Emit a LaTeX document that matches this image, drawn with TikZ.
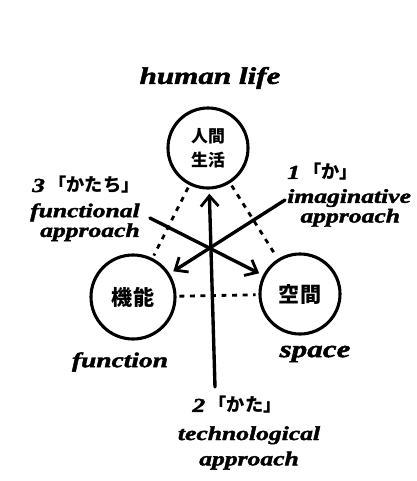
\documentclass[tikz,border=0pt]{standalone}
\usepackage{fontspec}
\newfontfamily\hand{Liberation Serif}[FakeStretch=1.3, FakeBold=2]
\newfontfamily\jp{Noto Sans CJK JP}
\usetikzlibrary{positioning, arrows.meta}

\begin{document}
\begin{tikzpicture}[
    x=0.025cm, y=-0.025cm,
    spot/.style={
      circle, draw=black, line width=2.2pt, inner sep=0pt,
      align=center, font=\jp\bfseries,
    },
    word/.style={
      font=\hand\bfseries\itshape\fontsize{17}{17}\selectfont,
      inner sep=0pt,
    },
    approach/.style={
      font=\hand\bfseries\itshape\fontsize{14}{14}\selectfont,
      inner sep=0pt, align=center,
    },
    force/.style={
      line width=2.4pt, line cap=round, shorten >=3pt,
      -{Straight Barb[length=2.6mm, width=4.4mm, line width=2pt]},
    },
    link/.style={
      line width=2pt, dash pattern=on 3.5pt off 4pt,
      shorten <=2pt, shorten >=2pt,
    },
]
\useasboundingbox (0,0) rectangle (416,481);

% Circles
\node[spot, minimum size=2cm, font=\jp\bfseries\fontsize{12}{17}\selectfont]
    (hl) at (208,148) {人間\\生活};
\node[spot, minimum size=2.1cm, font=\jp\bfseries\fontsize{15}{15}\selectfont]
    (fn) at (133,297) {機能};
\node[spot, minimum size=2cm, font=\jp\bfseries\fontsize{15}{15}\selectfont]
    (sp) at (300,294) {空間};

% Circle labels
\node[word] (hllabel) at (210,78)  {human life};
\node[word, font=\hand\bfseries\itshape\fontsize{15}{15}\selectfont]
    (fnlabel) at (120,362) {function};
\node[word] (splabel) at (315,354) {space};

% Dotted links
\draw[link] (hl) -- (fn);
\draw[link] (hl) -- (sp);
\draw[link] (fn) -- (sp);

% Approach arrows
\coordinate (tail1) at (285,200);
\coordinate (tail2) at (215,387);
\coordinate (tail3) at (150,218);
\draw[force] (tail1) -- (fn);
\draw[force] (tail2) -- (hl);
\draw[force] (tail3) -- (sp);

% Approach labels
\node[approach, align=left, anchor=north west] (ka1) at (287,163)
    {1\,{\jp\fontsize{13}{13}\selectfont「か」}\\[3pt]
     imaginative\\[0pt]
     \hspace*{0.33cm}approach};
\node[approach, anchor=north] (ka2) at (249,396)
    {2\,{\jp\fontsize{13}{13}\selectfont「かた」}\hspace*{0.6cm}\\[6pt]
     technological\\[4pt]
     approach};
\node[approach, align=right, anchor=north east] (ka3) at (140,176)
    {3\,{\jp\fontsize{13}{13}\selectfont「かたち」}\\[4pt]
     functional\\[0pt]
     approach};
\end{tikzpicture}
\end{document}
